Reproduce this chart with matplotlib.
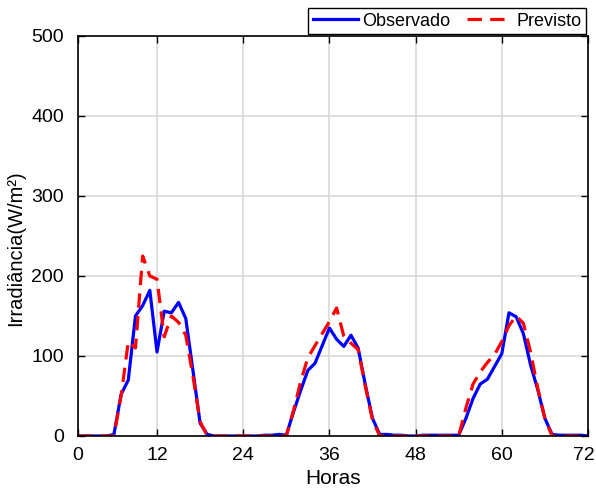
import numpy as np
import matplotlib.pyplot as plt
import matplotlib.transforms as mtransforms

plt.rcParams['font.family'] = ['Liberation Sans', 'DejaVu Sans']

# horas 1..72 (eixo rotulado 0..72)
horas = np.arange(1, 73)

observado = [0, 0, 0, 0, 0, 2, 52, 70, 150, 163, 182, 105,
             156, 154, 167, 147, 82, 16, 2, 0, 0, 0, 0, 0,
             0, 0, 1, 1, 2, 1, 30, 57, 82, 91, 113, 135,
             121, 112, 126, 110, 64, 22, 2, 2, 1, 1, 0, 0,
             1, 1, 1, 1, 1, 1, 22, 47, 65, 71, 87, 103,
             154, 149, 128, 89, 58, 22, 2, 1, 1, 1, 1, 0]

previsto = [0, 0, 0, 0, 0, 0, 50, 118, 110, 225, 200, 196,
            124, 150, 142, 126, 75, 18, 0, 0, 0, 0, 0, 0,
            0, 0, 0, 0, 0, 0, 32, 68, 98, 113, 128, 143,
            160, 125, 116, 108, 62, 20, 0, 0, 0, 0, 0, 0,
            0, 0, 0, 0, 0, 0, 35, 65, 80, 92, 102, 118,
            138, 150, 141, 105, 60, 22, 0, 0, 0, 0, 0, 0]

xticks = [1, 12, 24, 36, 48, 60, 72]
xtick_labels = ['0', '12', '24', '36', '48', '60', '72']
yticks = [0, 100, 200, 300, 400, 500]

fig = plt.figure(figsize=(5.96, 4.91), dpi=100)
ax = fig.add_axes([78/596, 1-436/491, 510/596, 400/491])

ax.plot(horas, observado, '-', color='#0000ff', lw=2.3, label='Observado')
l2, = ax.plot(horas, previsto, '--', color='#ff0000', lw=2.3, label='Previsto')
l2.set_dashes([4.5, 2.6])

ax.set_xlim(1, 72)
ax.set_ylim(0, 500)
ax.set_xticks(xticks)
ax.set_xticklabels(xtick_labels)
ax.set_yticks(yticks)
ax.grid(True, color='#d9d9d9', lw=1.2)
ax.set_axisbelow(True)
ax.tick_params(direction='in', length=5, width=1, top=True, right=True,
               labelsize=14)
ax.tick_params(axis='y', pad=10)
ax.tick_params(axis='x', pad=8)
for s in ax.spines.values():
    s.set_linewidth(1.2)

# o rótulo "72" fica um pouco para a esquerda, como no original
lbl = ax.get_xticklabels()[-1]
lbl.set_transform(lbl.get_transform() +
                  mtransforms.ScaledTranslation(-3/72, 0, fig.dpi_scale_trans))

ax.set_xlabel('Horas', fontsize=15)
ax.set_ylabel('Irradiância(W/m²)', fontsize=14.5)
ax.xaxis.set_label_coords(0.5, -0.083)
ax.yaxis.set_label_coords(-0.104, 0.47)

leg = ax.legend(ncol=2, loc='lower right', bbox_to_anchor=(1.0, 1.0),
                frameon=True, fancybox=False, fontsize=13,
                handlelength=2.5, columnspacing=0.9, handletextpad=0.25,
                borderpad=0.25, borderaxespad=0.1)
leg.get_frame().set_edgecolor('black')
leg.get_frame().set_linewidth(1.0)
leg.get_frame().set_alpha(1)

fig.savefig('out.png', dpi=100)
